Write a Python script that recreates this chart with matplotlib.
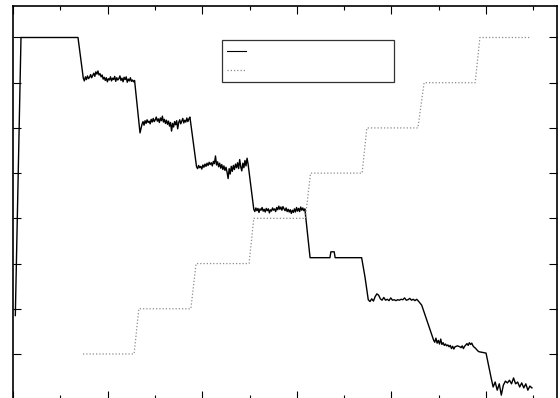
import numpy as np
import matplotlib
matplotlib.use("Agg")
import matplotlib.pyplot as plt
from matplotlib.lines import Line2D

# stepped reference (dotted grey)
ref_x = [14.8, 25.6, 26.6, 37.6, 38.7, 49.9, 50.9, 61.8,
         62.9, 73.8, 74.8, 85.6, 86.9, 97.7, 98.7, 109.5]
ref_y = [1, 1, 2, 2, 3, 3, 4, 4, 5, 5, 6, 6, 7, 7, 8, 8]

# measured response (solid black), read plateau by plateau
p1 = [7.10, 7.04, 7.13, 7.07, 7.15, 7.09, 7.12, 7.18, 7.11, 7.16, 7.21, 7.14, 7.24,
      7.19, 7.26, 7.17, 7.20, 7.13, 7.17, 7.08, 7.12, 7.05, 7.11, 7.02, 7.09, 7.06,
      7.13, 7.04, 7.10, 7.07, 7.14, 7.03, 7.11, 7.06, 7.09, 7.15, 7.05, 7.10, 7.02,
      7.12, 7.07, 7.13, 7.01, 7.08, 7.04, 7.11, 7.03, 7.06, 7.02, 7.05]
p2 = [6.08, 6.14, 6.06, 6.16, 6.10, 6.18, 6.12, 6.15, 6.09, 6.19, 6.13, 6.21, 6.14,
      6.18, 6.24, 6.15, 6.20, 6.12, 6.22, 6.16, 6.26, 6.13, 6.19, 6.10, 6.17, 6.08,
      6.15, 6.04, 6.12, 5.93, 6.10, 6.02, 6.14, 6.07, 6.16, 5.98, 6.12, 6.18, 6.09,
      6.15, 6.21, 6.11, 6.17, 6.13, 6.22, 6.14, 6.20, 6.24]
p3 = [5.14, 5.10, 5.17, 5.12, 5.15, 5.09, 5.18, 5.13, 5.20, 5.15, 5.22, 5.17, 5.24,
      5.19, 5.23, 5.16, 5.26, 5.21, 5.38, 5.18, 5.25, 5.14, 5.22, 5.11, 5.19, 5.08,
      5.16, 5.06, 5.13, 5.02, 4.88, 5.10, 4.98, 5.15, 5.04, 5.17, 5.08, 5.20, 5.12,
      5.23, 5.10, 5.30, 5.14, 5.05, 5.22, 5.12, 5.28, 5.16, 5.33, 5.20]
p4 = [4.20, 4.15, 4.23, 4.17, 4.22, 4.13, 4.21, 4.18, 4.24, 4.16, 4.20, 4.14, 4.22,
      4.17, 4.21, 4.12, 4.19, 4.16, 4.23, 4.18, 4.21, 4.15, 4.24, 4.19, 4.27, 4.20,
      4.25, 4.18, 4.26, 4.21, 4.17, 4.23, 4.15, 4.20, 4.14, 4.19, 4.11, 4.18, 4.13,
      4.21, 4.14, 4.24, 4.16, 4.22, 4.15, 4.25, 4.18, 4.23, 4.17, 4.21]
p5_x = [62.8, 67.0, 67.2, 67.9, 68.1, 73.7]
p5 = [3.13, 3.13, 3.26, 3.26, 3.13, 3.13]
p6 = [2.20, 2.16, 2.22, 2.17, 2.27, 2.33, 2.30, 2.22, 2.19, 2.25, 2.19, 2.21, 2.18,
      2.24, 2.19, 2.20, 2.18, 2.20, 2.19, 2.21, 2.20, 2.24, 2.19, 2.20, 2.23, 2.19,
      2.21, 2.18, 2.21, 2.17]
p7 = [1.31, 1.26, 1.35, 1.24, 1.30, 1.22, 1.33, 1.21, 1.25, 1.19, 1.22, 1.18, 1.20,
      1.16, 1.19, 1.12, 1.17, 1.11, 1.16, 1.17, 1.18, 1.17, 1.16, 1.14, 1.18, 1.12,
      1.17, 1.20, 1.23, 1.19, 1.25, 1.21, 1.24, 1.18, 1.15, 1.13, 1.10, 1.07, 1.05]
p8 = [0.27, 0.38, 0.20, 0.34, 0.09, 0.31, 0.40, 0.36, 0.42, 0.34, 0.47, 0.34, 0.38,
      0.27, 0.36, 0.25, 0.34, 0.20, 0.29, 0.25]

# (start, end, values) of each sampled plateau
segments = [(14.86, 25.7, p1), (27.27, 37.4, p2), (38.8, 49.7, p3),
            (50.9, 61.7, p4), (75.1, 85.7, p6), (88.9, 98.5, p7), (101.5, 109.7, p8)]

lead_x, lead_y = [0.49, 1.69, 13.74], [1.85, 8.0, 8.0]
dip_x, dip_y = [26.85], [5.89]
fall6_x, fall6_y = [74.4], [2.71]
fall7_x, fall7_y = [86.4, 88.2], [2.08, 1.53]
fall8_x, fall8_y = [100.0, 101.1], [1.02, 0.46]


def seg(i):
    a, b, v = segments[i]
    return list(np.linspace(a, b, len(v))), list(v)


xs, ys = list(lead_x), list(lead_y)
for part in [seg(0), (dip_x, dip_y), seg(1), seg(2), seg(3), (p5_x, p5),
             (fall6_x, fall6_y), seg(4), (fall7_x, fall7_y), seg(5),
             (fall8_x, fall8_y), seg(6)]:
    xs += list(part[0])
    ys += list(part[1])

fig = plt.figure(figsize=(5.6, 3.98), dpi=100)
ax = fig.add_axes([13 / 560, -1.2 / 398, 544 / 560, 392.9 / 398])

ax.plot(xs, ys, color="black", lw=1.0)
ax.plot(ref_x, ref_y, color="#8c8c8c", lw=0.9, linestyle=(0, (1, 1.6)))

ax.set_xlim(0, 115)
ax.set_ylim(0, 8.69)
ax.set_xticks(np.arange(0, 116, 20))
ax.set_xticks(np.arange(10, 116, 20), minor=True)
ax.set_yticks(np.arange(0, 9, 1))
ax.tick_params(which="both", direction="in", top=True, right=True,
               labelbottom=False, labelleft=False, width=0.8, color="black")
ax.tick_params(which="major", length=6)
ax.tick_params(which="minor", length=3)
for s in ax.spines.values():
    s.set_linewidth(1.2)

handles = [Line2D([], [], color="black", lw=0.8),
           Line2D([], [], color="#8c8c8c", lw=0.9, linestyle=(0, (1, 1.6)))]
leg = ax.legend(handles, [" ", " "], loc="upper left",
                bbox_to_anchor=(0.384, 0.805, 0.316, 0.109), mode="expand",
                borderaxespad=0, fancybox=False, fontsize=9, handlelength=1.5,
                borderpad=0.4, labelspacing=0.5, framealpha=1)
leg.get_frame().set_edgecolor("#333333")
leg.get_frame().set_linewidth(0.9)

fig.savefig("out.png", dpi=100)
